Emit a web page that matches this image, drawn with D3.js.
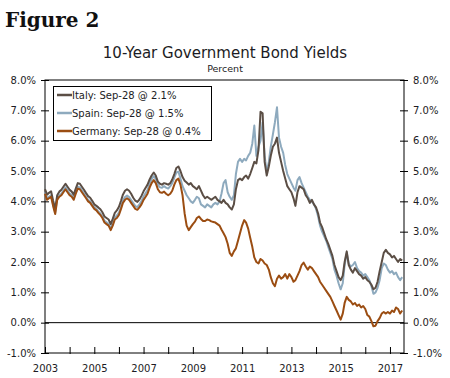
<!DOCTYPE html>
<html><head><meta charset="utf-8">
<script src="https://cdn.jsdelivr.net/npm/d3@7"></script>
<style>body{margin:0;background:#fff} svg{display:block}</style>
</head><body>
<svg id="c" width="450" height="378"></svg>
<script>
// Monthly observations, first month Jan 2003
const firstMonth = new Date(2003, 0, 1);
const italy = [
4.40,4.22,4.28,4.33,4.03,3.75,4.20,4.32,4.38,4.48,4.58,4.48,
4.38,4.32,4.22,4.42,4.60,4.58,4.48,4.38,4.27,4.17,4.12,4.02,
3.90,3.85,3.80,3.74,3.64,3.50,3.45,3.40,3.25,3.42,3.62,3.70,
3.82,4.02,4.22,4.35,4.40,4.35,4.25,4.12,4.02,3.98,4.06,4.18,
4.33,4.45,4.55,4.72,4.85,4.95,4.85,4.65,4.58,4.55,4.60,4.58,
4.55,4.60,4.72,4.90,5.10,5.15,5.00,4.80,4.68,4.62,4.55,4.60,
4.50,4.45,4.40,4.50,4.35,4.20,4.10,4.15,4.10,4.05,4.10,4.15,
4.05,4.00,3.95,4.05,3.95,3.90,3.80,3.73,3.90,4.40,4.70,4.75,
4.70,4.80,4.85,4.75,4.90,5.10,5.30,5.25,5.70,6.95,6.90,5.30,
4.85,5.15,5.50,5.80,5.90,6.10,5.60,5.30,5.00,4.75,4.50,4.40,
4.30,4.10,3.85,4.30,4.50,4.45,4.40,4.20,4.10,3.95,4.05,3.90,
3.80,3.60,3.30,3.15,2.95,2.75,2.60,2.40,2.20,1.90,1.70,1.50,
1.40,1.55,2.00,2.35,1.90,1.75,1.65,1.80,1.70,1.60,1.55,1.45,
1.50,1.40,1.35,1.25,1.10,1.15,1.35,1.70,2.00,2.30,2.40,2.30,
2.25,2.15,2.20,2.10,2.00,2.10,2.05];
const spain = [
4.30,4.10,4.15,4.20,3.90,3.63,4.10,4.20,4.25,4.36,4.46,4.36,
4.26,4.20,4.10,4.30,4.48,4.46,4.36,4.26,4.15,4.05,4.00,3.90,
3.80,3.75,3.67,3.60,3.50,3.36,3.31,3.26,3.11,3.27,3.47,3.53,
3.63,3.83,4.03,4.14,4.19,4.14,4.04,3.94,3.84,3.81,3.90,4.00,
4.16,4.27,4.37,4.58,4.73,4.83,4.74,4.55,4.46,4.45,4.50,4.45,
4.42,4.50,4.60,4.78,4.95,4.98,4.75,4.50,4.35,4.20,4.10,4.00,
3.95,4.05,4.15,4.10,3.90,3.85,3.80,3.90,3.85,3.80,3.90,3.95,
3.90,4.00,4.25,4.60,4.70,4.30,4.15,4.05,4.20,4.90,5.30,5.40,
5.30,5.40,5.35,5.50,5.60,5.90,6.50,5.50,5.80,6.00,6.60,5.50,
4.95,5.30,5.80,6.20,6.60,7.10,6.10,5.80,5.60,5.20,4.90,4.75,
4.60,4.45,4.35,4.70,4.80,4.60,4.45,4.30,4.15,4.05,4.00,3.90,
3.75,3.50,3.20,3.00,2.85,2.70,2.50,2.30,2.10,1.75,1.55,1.30,
1.10,1.30,1.90,2.30,1.95,1.85,1.90,2.00,1.80,1.70,1.65,1.55,
1.60,1.50,1.40,1.20,0.95,1.00,1.15,1.40,1.80,1.95,1.90,1.75,
1.65,1.70,1.60,1.65,1.50,1.40,1.50];
const germany = [
4.25,4.05,4.10,4.15,3.85,3.58,4.05,4.15,4.20,4.30,4.40,4.30,
4.20,4.15,4.05,4.25,4.42,4.40,4.30,4.20,4.10,4.00,3.95,3.85,
3.75,3.70,3.62,3.55,3.45,3.30,3.25,3.20,3.05,3.20,3.40,3.45,
3.55,3.75,3.95,4.05,4.10,4.05,3.95,3.85,3.75,3.72,3.80,3.90,
4.05,4.15,4.25,4.45,4.60,4.70,4.60,4.40,4.30,4.28,4.32,4.25,
4.20,4.25,4.35,4.55,4.70,4.75,4.55,4.20,3.60,3.20,3.05,3.15,
3.25,3.33,3.45,3.50,3.42,3.35,3.35,3.40,3.38,3.34,3.32,3.30,
3.25,3.20,3.07,2.95,2.82,2.60,2.30,2.20,2.35,2.45,2.70,2.95,
3.20,3.38,3.30,3.10,2.80,2.50,2.15,2.00,1.95,2.10,2.05,1.95,
1.90,1.75,1.50,1.30,1.20,1.45,1.55,1.45,1.50,1.60,1.45,1.60,
1.50,1.35,1.40,1.55,1.70,1.90,1.98,1.85,1.75,1.85,1.80,1.70,
1.60,1.50,1.35,1.25,1.15,1.05,0.95,0.85,0.70,0.55,0.40,0.25,
0.10,0.30,0.65,0.85,0.75,0.70,0.60,0.65,0.55,0.60,0.50,0.55,
0.45,0.25,0.20,0.05,-0.12,-0.10,0.05,0.15,0.30,0.35,0.30,0.35,
0.30,0.40,0.35,0.50,0.45,0.30,0.40];
const seriesNames = ["Italy", "Spain", "Germany"];
const legendLabels = ["Italy: Sep-28 @ 2.1%", "Spain: Sep-28 @ 1.5%", "Germany: Sep-28 @ 0.4%"];
const seriesColors = ["#5b4e45", "#8eaabe", "#9b4d12"];
const yTickValues = [-1, 0, 1, 2, 3, 4, 5, 6, 7, 8];
const xTickYears = [2003,2004,2005,2006,2007,2008,2009,2010,2011,2012,2013,2014,2015,2016,2017];
const xLabelYears = [2003,2005,2007,2009,2011,2013,2015,2017];
const titleText = "10-Year Government Bond Yields";
const subtitleText = "Percent";
const figureText = "Figure 2";

const svg = d3.select("#c");
const L = 45, R = 404, T = 80, B = 353;
const font = "'DejaVu Sans', Verdana, sans-serif";
const textColor = "#1c1c24";

const dates = d3.range(germany.length).map(i => d3.timeMonth.offset(firstMonth, i));
const x = d3.scaleTime().domain([firstMonth, new Date(2017, 6, 28)]).range([L, R]);
const y = d3.scaleLinear().domain([-1, 8]).range([B, T]);

svg.append("text").attr("x", 5).attr("y", 27)
  .attr("font-family", "'DejaVu Serif', Georgia, serif").attr("font-weight", "bold")
  .attr("font-size", 20).attr("fill", "#111").text(figureText);
svg.append("text").attr("x", 225).attr("y", 58).attr("text-anchor", "middle")
  .attr("font-family", font).attr("font-size", 15).attr("fill", textColor).text(titleText);
svg.append("text").attr("x", 225).attr("y", 72).attr("text-anchor", "middle")
  .attr("font-family", font).attr("font-size", 9.5).attr("fill", textColor).text(subtitleText);

// frame
svg.append("rect").attr("x", L).attr("y", T).attr("width", R - L).attr("height", B - T)
  .attr("fill", "none").attr("stroke", "#000").attr("stroke-width", 1);

const fmt = d => d.toFixed(1) + "%";
const yl = svg.append("g").attr("transform", `translate(${L},0)`)
  .call(d3.axisLeft(y).tickValues(yTickValues).tickFormat(fmt).tickSizeInner(4).tickSizeOuter(0).tickPadding(5));
const yr = svg.append("g").attr("transform", `translate(${R},0)`)
  .call(d3.axisRight(y).tickValues(yTickValues).tickFormat(fmt).tickSizeInner(4).tickSizeOuter(0).tickPadding(5));
[yl, yr].forEach(g => {
  g.select(".domain").remove();
  g.selectAll(".tick line").attr("stroke", "#000").attr("x1", -4).attr("x2", 4);
  g.selectAll("text").attr("font-family", font).attr("font-size", 10).attr("fill", textColor);
});
yl.selectAll("text").attr("x", -9);
yr.selectAll("text").attr("x", 9);

const xa = svg.append("g").attr("transform", `translate(0,${B})`)
  .call(d3.axisBottom(x).tickValues(xTickYears.map(v => new Date(v, 0, 1)))
    .tickFormat(d => xLabelYears.includes(d.getFullYear()) ? d.getFullYear() : "")
    .tickSizeOuter(0).tickPadding(4));
xa.select(".domain").remove();
xa.selectAll(".tick line").attr("stroke", "#000").attr("y1", -6).attr("y2", 1);
xa.selectAll("text").attr("font-family", font).attr("font-size", 10).attr("fill", textColor).attr("dy", "0.9em");

// zero line
svg.append("line").attr("x1", L).attr("x2", R).attr("y1", y(0)).attr("y2", y(0))
  .attr("stroke", "#000").attr("stroke-width", 1);

const line = d3.line().x((d, i) => x(dates[i])).y(d => y(d));
const data = { Italy: italy, Spain: spain, Germany: germany };
["Spain", "Italy", "Germany"].forEach(n => {
  const k = seriesNames.indexOf(n);
  svg.append("path").datum(data[n]).attr("d", line).attr("fill", "none")
    .attr("stroke", seriesColors[k]).attr("stroke-width", 2).attr("stroke-linejoin", "round");
});

// legend
const lg = svg.append("g");
lg.append("rect").attr("x", 53.5).attr("y", 86.5).attr("width", 158).attr("height", 54)
  .attr("fill", "#fff").attr("stroke", "#000").attr("stroke-width", 1);
legendLabels.forEach((t, k) => {
  const yy = 95 + k * 18;
  lg.append("line").attr("x1", 57).attr("x2", 72).attr("y1", yy).attr("y2", yy)
    .attr("stroke", seriesColors[k]).attr("stroke-width", 2.5);
  lg.append("text").attr("x", 72).attr("y", yy + 4).attr("font-family", font)
    .attr("font-size", 10).attr("fill", textColor).text(t);
});
</script>
</body></html>
